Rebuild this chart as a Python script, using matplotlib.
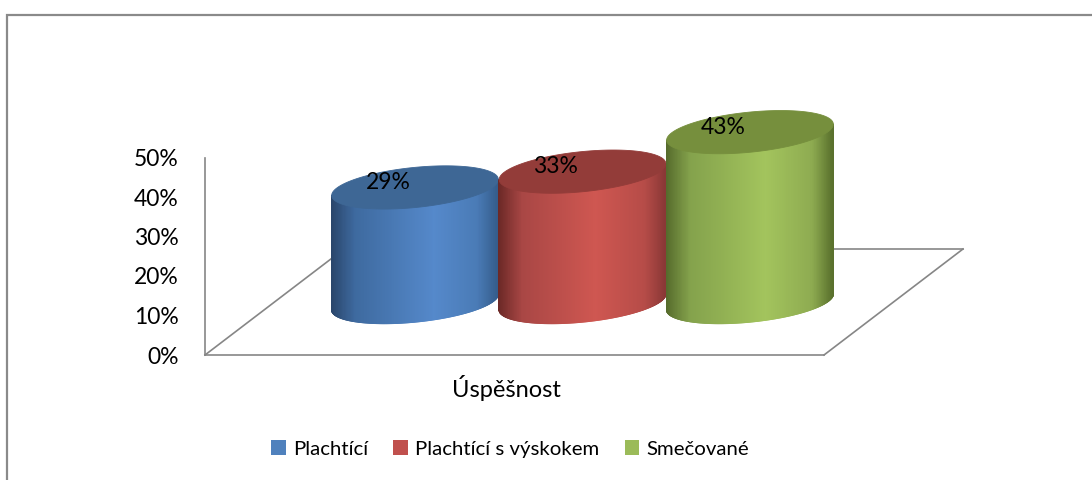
import numpy as np
import matplotlib
matplotlib.use("Agg")
import matplotlib.pyplot as plt
from matplotlib.collections import PolyCollection
from matplotlib.patches import Polygon, Patch, Rectangle
from matplotlib.transforms import IdentityTransform
from matplotlib.colors import LinearSegmentedColormap

# ---- data ----
category = "Úspěšnost"
series = ["Plachtící", "Plachtící s výskokem", "Smečované"]
values = [29, 33, 43]          # percent
y_ticks = [0, 10, 20, 30, 40, 50]
y_tick_labels = ["0%", "10%", "20%", "30%", "40%", "50%"]

# ---- styling ----
FONT = ["Lato", "DejaVu Sans"]
plt.rcParams["font.family"] = FONT
AXIS_FS = 16.5
CAT_FS = 17
LEGEND_FS = 14.7
legend_colors = ["#4f81bd", "#c0504d", "#9bbb59"]
top_colors = ["#3e6795", "#933c39", "#768f3d"]
side_stops = [
    [(0.0, "#2a466b"), (0.14, "#3e6a9f"), (0.62, "#5589cb"), (0.88, "#4a7bb6"), (1.0, "#355d8c")],
    [(0.0, "#6c2927"), (0.14, "#a94745"), (0.58, "#cf5751"), (0.88, "#b64c48"), (1.0, "#8a3836")],
    [(0.0, "#566b2c"), (0.14, "#84a24c"), (0.60, "#a3c45d"), (0.88, "#8eab51"), (1.0, "#5a712d")],
]
GRID = "#868686"
DEPTH = np.array([139.0, 106.0])   # floor depth in pixels (x right, y up)
RX_MINOR = 20.0                    # ellipse minor semi-axis, pixels
TILT = np.deg2rad(5.8)             # perspective tilt of the ellipses

W, H, DPI = 1092, 480, 100
fig = plt.figure(figsize=(W / DPI, H / DPI), dpi=DPI)
fig.patch.set_facecolor("white")

# outer chart frame
fig.patches.append(Rectangle((6.5 / W, -0.1), 2.0, (H - 14.5) / H + 0.1,
                             transform=fig.transFigure, fill=False,
                             edgecolor="#8a8a8a", lw=1.6, zorder=0))

ax = fig.add_axes([205 / W, (H - 355) / H, 619 / W, 197.5 / H])
ax.set_xlim(-0.839, 2.857)
ax.set_ylim(0, 50)
ax.patch.set_alpha(0)
for side in ["top", "right", "bottom"]:
    ax.spines[side].set_visible(False)
ax.spines["left"].set_color(GRID)
ax.spines["left"].set_linewidth(1.2)
ax.set_xticks([])
ax.set_yticks(y_ticks)
ax.set_yticklabels(y_tick_labels, fontsize=AXIS_FS, color="black")
ax.tick_params(axis="y", length=0, pad=19)

ident = IdentityTransform()
T = ax.transData

# floor parallelogram
x0, x1 = ax.get_xlim()
fl = T.transform((x0, 0))
fr = T.transform((x1, 0))
bl = fl + DEPTH
br = fr + DEPTH
for p, q in [(bl, br), (fl, bl), (fr, br), (fl, fr)]:
    ax.add_line(plt.Line2D([p[0], q[0]], [p[1], q[1]], transform=ident,
                           color=GRID, lw=1.2, zorder=1, clip_on=False))


def ellipse_pts(center, a, b, t):
    ct, st = np.cos(TILT), np.sin(TILT)
    x = a * np.cos(t) * ct - b * np.sin(t) * st
    y = a * np.cos(t) * st + b * np.sin(t) * ct
    return np.column_stack([center[0] + x, center[1] + y])


half_depth = DEPTH / 2.0
for i, v in enumerate(values):
    base = T.transform((i, 0)) + half_depth
    top = T.transform((i, v)) + half_depth
    a = T.transform((i + 0.5, 0))[0] - T.transform((i, 0))[0]
    b = RX_MINOR
    t_r = np.arctan2(-b * np.sin(TILT), a * np.cos(TILT))
    t = np.linspace(np.pi + t_r, 2 * np.pi + t_r, 260)
    lower_b = ellipse_pts(base, a, b, t)
    lower_t = ellipse_pts(top, a, b, t)

    cmap = LinearSegmentedColormap.from_list(f"side{i}", side_stops[i])
    xmin, xmax = lower_b[:, 0].min(), lower_b[:, 0].max()
    polys, cols = [], []
    for k in range(len(t) - 1):
        polys.append([lower_b[k], lower_b[k + 1], lower_t[k + 1], lower_t[k]])
        f = ((lower_b[k, 0] + lower_b[k + 1, 0]) / 2 - xmin) / (xmax - xmin)
        cols.append(cmap(f))
    pc = PolyCollection(polys, facecolors=cols, edgecolors=cols, linewidths=0.8,
                        transform=ident, zorder=2 + i)
    pc.set_clip_on(False)
    ax.add_collection(pc)

    tt = np.linspace(0, 2 * np.pi, 300)
    cap = Polygon(ellipse_pts(top, a, b, tt), closed=True, transform=ident,
                  facecolor=top_colors[i], edgecolor=top_colors[i], lw=0.6,
                  zorder=2 + i + 0.5, clip_on=False)
    ax.add_patch(cap)

    ax.annotate(f"{v}%", xy=(i, v), xytext=(half_depth[0] - 27, half_depth[1] + 5),
                textcoords="offset pixels", ha="center", va="center",
                fontsize=AXIS_FS, color="black", zorder=10, annotation_clip=False)

# category label
ax.annotate(category, xy=(0.5, 0), xycoords="axes fraction",
            xytext=(-8, -33), textcoords="offset pixels",
            ha="center", va="center", fontsize=CAT_FS, color="black")

handles = [Patch(facecolor=c, edgecolor="none") for c in legend_colors]
fig.legend(handles, series, loc="center", bbox_to_anchor=(510 / W, (H - 449) / H),
           ncol=3, frameon=False, fontsize=LEGEND_FS, handlelength=0.7,
           handleheight=0.7, handletextpad=0.35, columnspacing=1.25)

fig.savefig("out.png", dpi=DPI, facecolor="white")
